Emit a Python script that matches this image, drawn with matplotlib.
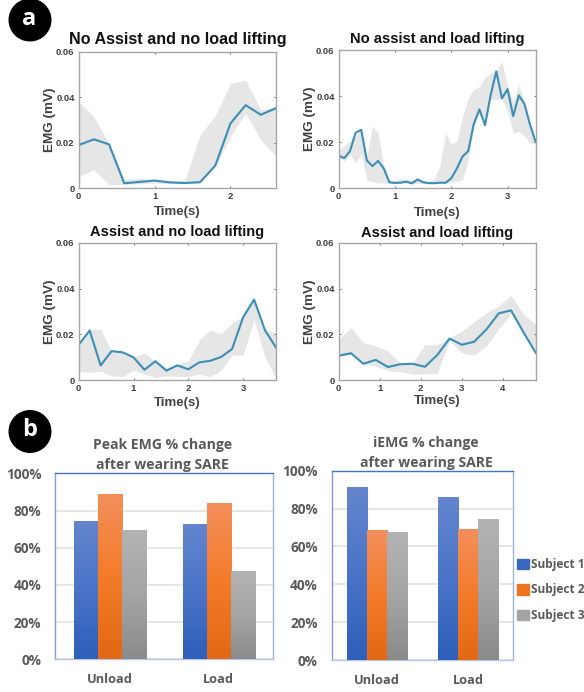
#!/usr/bin/python3
import numpy as np
import matplotlib
matplotlib.use("Agg")
import matplotlib.pyplot as plt
from matplotlib.colors import LinearSegmentedColormap
from matplotlib.patches import Circle, Patch

W, H = 584, 692

# panel a, EMG traces
t1 = [0, .2, .4, .6, .8, 1, 1.2, 1.4, 1.6, 1.8, 2, 2.2, 2.4, 2.6]
mean1 = [.019, .0215, .0193, .0022, .0028, .0034, .0026, .0023, .0027, .0100, .0285, .0365, .0323, .0352]
up1 = [.038, .0315, .0195, .004, .0044, .0037, .003, .0037, .0234, .032, .046, .0475, .0344, .0358]
lo1 = [.005, .0083, .0015, .0018, .002, .0024, .002, .002, .0022, .0095, .0227, .033, .0212, .014]

t2 = [0, .1, .2, .3, .4, .5, .6, .7, .8, .9, 1, 1.1, 1.2, 1.3, 1.4, 1.5, 1.6, 1.7,
      1.8, 1.9, 2, 2.1, 2.2, 2.3, 2.4, 2.5, 2.6, 2.7, 2.8, 2.9, 3, 3.1, 3.2, 3.3, 3.4, 3.5]
mean2 = [.014, .013, .016, .024, .0253, .012, .0095, .0118, .0085, .0025, .0022, .0023,
         .0028, .002, .0037, .0025, .0021, .0021, .0023, .0023, .0042, .0085, .0137, .016,
         .0278, .0342, .0273, .0405, .0507, .039, .043, .0312, .0403, .0365, .0275, .02]
up2 = [.016, .0185, .0205, .0225, .0255, .0135, .027, .024, .0095, .003, .0033, .004,
       .0035, .0035, .004, .0035, .0028, .004, .01, .024, .019, .0205, .031, .039,
       .043, .044, .048, .05, .051, .055, .044, .0375, .045, .037, .028, .02]
lo2 = [.0135, .0115, .0145, .011, .015, .0035, .0028, .0022, .0022, .002, .002, .002,
       .002, .002, .002, .002, .002, .002, .002, .002, .0025, .003, .0035, .0125,
       .027, .033, .027, .0385, .0385, .0385, .0335, .024, .0245, .0225, .0195, .019]

t3 = [0, .2, .4, .6, .8, 1, 1.2, 1.4, 1.6, 1.8, 2, 2.2, 2.4, 2.6, 2.8, 3, 3.2, 3.4, 3.6]
mean3 = [.0155, .0217, .0065, .0127, .0122, .0100, .0046, .0083, .0042, .0065, .0048, .0078,
         .0085, .0102, .0137, .0275, .0352, .0218, .0143]
up3 = [.0155, .0223, .0223, .0127, .0122, .0100, .0118, .0083, .0055, .0068, .0085, .0175,
       .022, .0202, .0252, .0278, .0352, .0222, .0205]
lo3 = [.0038, .0035, .004, .002, .0016, .0043, .0028, .0012, .002, .0016, .0016, .0027,
       .0015, .0045, .011, .011, .0265, .0100, .001]

t4 = [0, .3, .6, .9, 1.2, 1.5, 1.8, 2.1, 2.4, 2.7, 3, 3.3, 3.6, 3.9, 4.2, 4.5, 4.8]
mean4 = [.0107, .0118, .0072, .0089, .0058, .007, .0072, .0059, .011, .0182, .0155, .0168,
         .0222, .0292, .0305, .021, .012]
up4 = [.018, .023, .0165, .015, .0128, .0075, .0075, .0155, .0155, .0185, .0215, .0255,
       .0295, .0325, .037, .029, .0245]
lo4 = [.0105, .0115, .0072, .0062, .0042, .0037, .0027, .0028, .003, .0175, .0118, .011,
       .015, .0225, .029, .021, .012]

# panel b, bars
groups = ["Unload", "Load"]
subjects = ["Subject 1", "Subject 2", "Subject 3"]
peak = [[74.5, 72.5], [89, 84], [69.5, 47.5]]
iemg = [[91.5, 86], [68.5, 69], [67.5, 74.5]]
pct_ticks = [0, 20, 40, 60, 80, 100]

grads = [["#6485cd", "#4a74c8", "#2e5fba"],
         ["#f38f5c", "#f47b29", "#e26815"],
         ["#b3b3b3", "#a5a5a5", "#8b8b8b"]]
legend_cols = ["#3a68bf", "#ee7422", "#a3a3a3"]

LINE = "#3b8fb6"
BAND = "#e6e6e6"
FRAME = "#a6a6a6"
TXT = "#404040"
MFONT = "Liberation Sans"
OFONT = "Open Sans"


def px_axes(fig, x0, y0, x1, y1):
  # pixel box measured from the top left
  return fig.add_axes([x0 / W, 1 - y1 / H, (x1 - x0) / W, (y1 - y0) / H])


def emg_panel(fig, box, t, mean, up, lo, title, xticks, title_y, xlabel_y, title_size):
  ax = px_axes(fig, *box)
  ax.fill_between(t, lo, up, color=BAND, lw=0)
  ax.plot(t, mean, color=LINE, lw=1.5)
  ax.set_xlim(t[0], t[-1])
  ax.set_ylim(0, .06)
  ax.set_xticks(xticks)
  ax.set_yticks([0, .02, .04, .06])
  ax.set_yticklabels(["0", "0.02", "0.04", "0.06"])
  ax.tick_params(direction="in", length=1.5, width=.6, color="#555555", top=True, right=True, pad=3)
  for lab in ax.get_xticklabels() + ax.get_yticklabels():
    lab.set(fontsize=6.8, fontweight="bold", color=TXT, family=MFONT)
  for s in ax.spines.values():
    s.set_color(FRAME)
    s.set_linewidth(1)
  ax.set_ylabel("EMG (mV)", fontsize=9.7, fontweight="bold", color=TXT, family=MFONT, labelpad=0)
  xc = (box[0] + box[2]) / 2
  over.text(xc, xlabel_y, "Time(s)", fontsize=9.5, fontweight="bold", color=TXT, family=MFONT, ha="center", va="center")
  over.text(xc, title_y, title, fontsize=title_size, fontweight="bold", color="#111111", family=MFONT, ha="center", va="center")
  return ax


def bar_panel(fig, box, values, title, title_ys, title_x):
  ax = px_axes(fig, *box)
  x = np.arange(len(groups))
  width = .222
  ax.yaxis.grid(True, color="#e2e2e2", lw=1.2)
  ax.set_axisbelow(True)
  for i, vals in enumerate(values):
    cmap = LinearSegmentedColormap.from_list("g", grads[i])
    bars = ax.bar(x + (i - 1) * width, vals, width, color="none")
    for b in bars:
      # first row of the ramp is the top of the bar
      im = ax.imshow(np.linspace(0, 1, 64).reshape(-1, 1), cmap=cmap, aspect="auto", zorder=3, origin="upper",
                     extent=[b.get_x(), b.get_x() + b.get_width(), 0, b.get_height()])
      im.set_clip_path(b)
  ax.set_xlim(-.5, 1.5)
  ax.set_ylim(0, 100)
  ax.set_xticks(x)
  ax.set_xticklabels(groups)
  ax.set_yticks(pct_ticks)
  ax.set_yticklabels([f"{p}%" for p in pct_ticks])
  ax.tick_params(length=0)
  ax.tick_params(axis="x", pad=10, labelsize=9.2)
  ax.tick_params(axis="y", pad=10, labelsize=9.8)
  for lab in ax.get_xticklabels() + ax.get_yticklabels():
    lab.set(fontweight="bold", color="#595959", family=OFONT)
  ax.spines["top"].set_color("#4472c4")
  ax.spines["left"].set_color("#7d9bd6")
  ax.spines["right"].set_color("#9db4e0")
  ax.spines["bottom"].set_color("#b7c6e6")
  for s in ax.spines.values():
    s.set_linewidth(1)
  for line, y in zip(title, title_ys):
    over.text(title_x, y, line, fontsize=10.1, fontweight="bold", color="#595959", family=OFONT, ha="center", va="center")
  return ax


fig = plt.figure(figsize=(W / 100, H / 100), dpi=100, facecolor="white")

# full figure overlay in pixels, for the badges and the free text
over = fig.add_axes([0, 0, 1, 1], zorder=5)
over.set_xlim(0, W)
over.set_ylim(H, 0)
over.axis("off")
over.patch.set_alpha(0)

emg_panel(fig, (78.7, 51.7, 276, 188.3), t1, mean1, up1, lo1, "No Assist and no load lifting", [0, 1, 2], 39.5, 212.5, 11.6)
emg_panel(fig, (338.7, 50, 535.7, 188), t2, mean2, up2, lo2, "No assist and load lifting", [0, 1, 2, 3], 39.5, 213, 10.6)
emg_panel(fig, (78.7, 242.7, 276, 380.3), t3, mean3, up3, lo3, "Assist and no load lifting", [0, 1, 2, 3], 232, 403, 10.5)
emg_panel(fig, (338.7, 242.7, 535.7, 380.3), t4, mean4, up4, lo4, "Assist and load lifting", [0, 1, 2, 3, 4], 232.5, 401, 10.5)

bar_panel(fig, (55.3, 473.3, 273.3, 659.3), peak, ["Peak EMG % change", "after wearing SARE"], (445, 465), 162.5)
bar_panel(fig, (331.7, 470.7, 513.3, 660), iemg, ["iEMG % change", "after wearing SARE"], (443, 463), 426)

for cy, lab in ((20, "a"), (431.5, "b")):
  over.add_patch(Circle((30, cy), 21.5, color="black", lw=0))
  over.text(29.5, cy - 1, lab, color="white", fontsize=17, fontweight="bold", family=OFONT, ha="center", va="center")

handles = [Patch(color=c) for c in legend_cols]
fig.legend(handles, subjects, loc="center left", bbox_to_anchor=(517 / W, 1 - 590 / H), frameon=False,
           handlelength=1, handleheight=1, handletextpad=.2, labelspacing=1.05, borderaxespad=0, borderpad=0,
           labelcolor="#595959", prop={"family": OFONT, "weight": "bold", "size": 8.6})

fig.savefig("out.png", dpi=100)
